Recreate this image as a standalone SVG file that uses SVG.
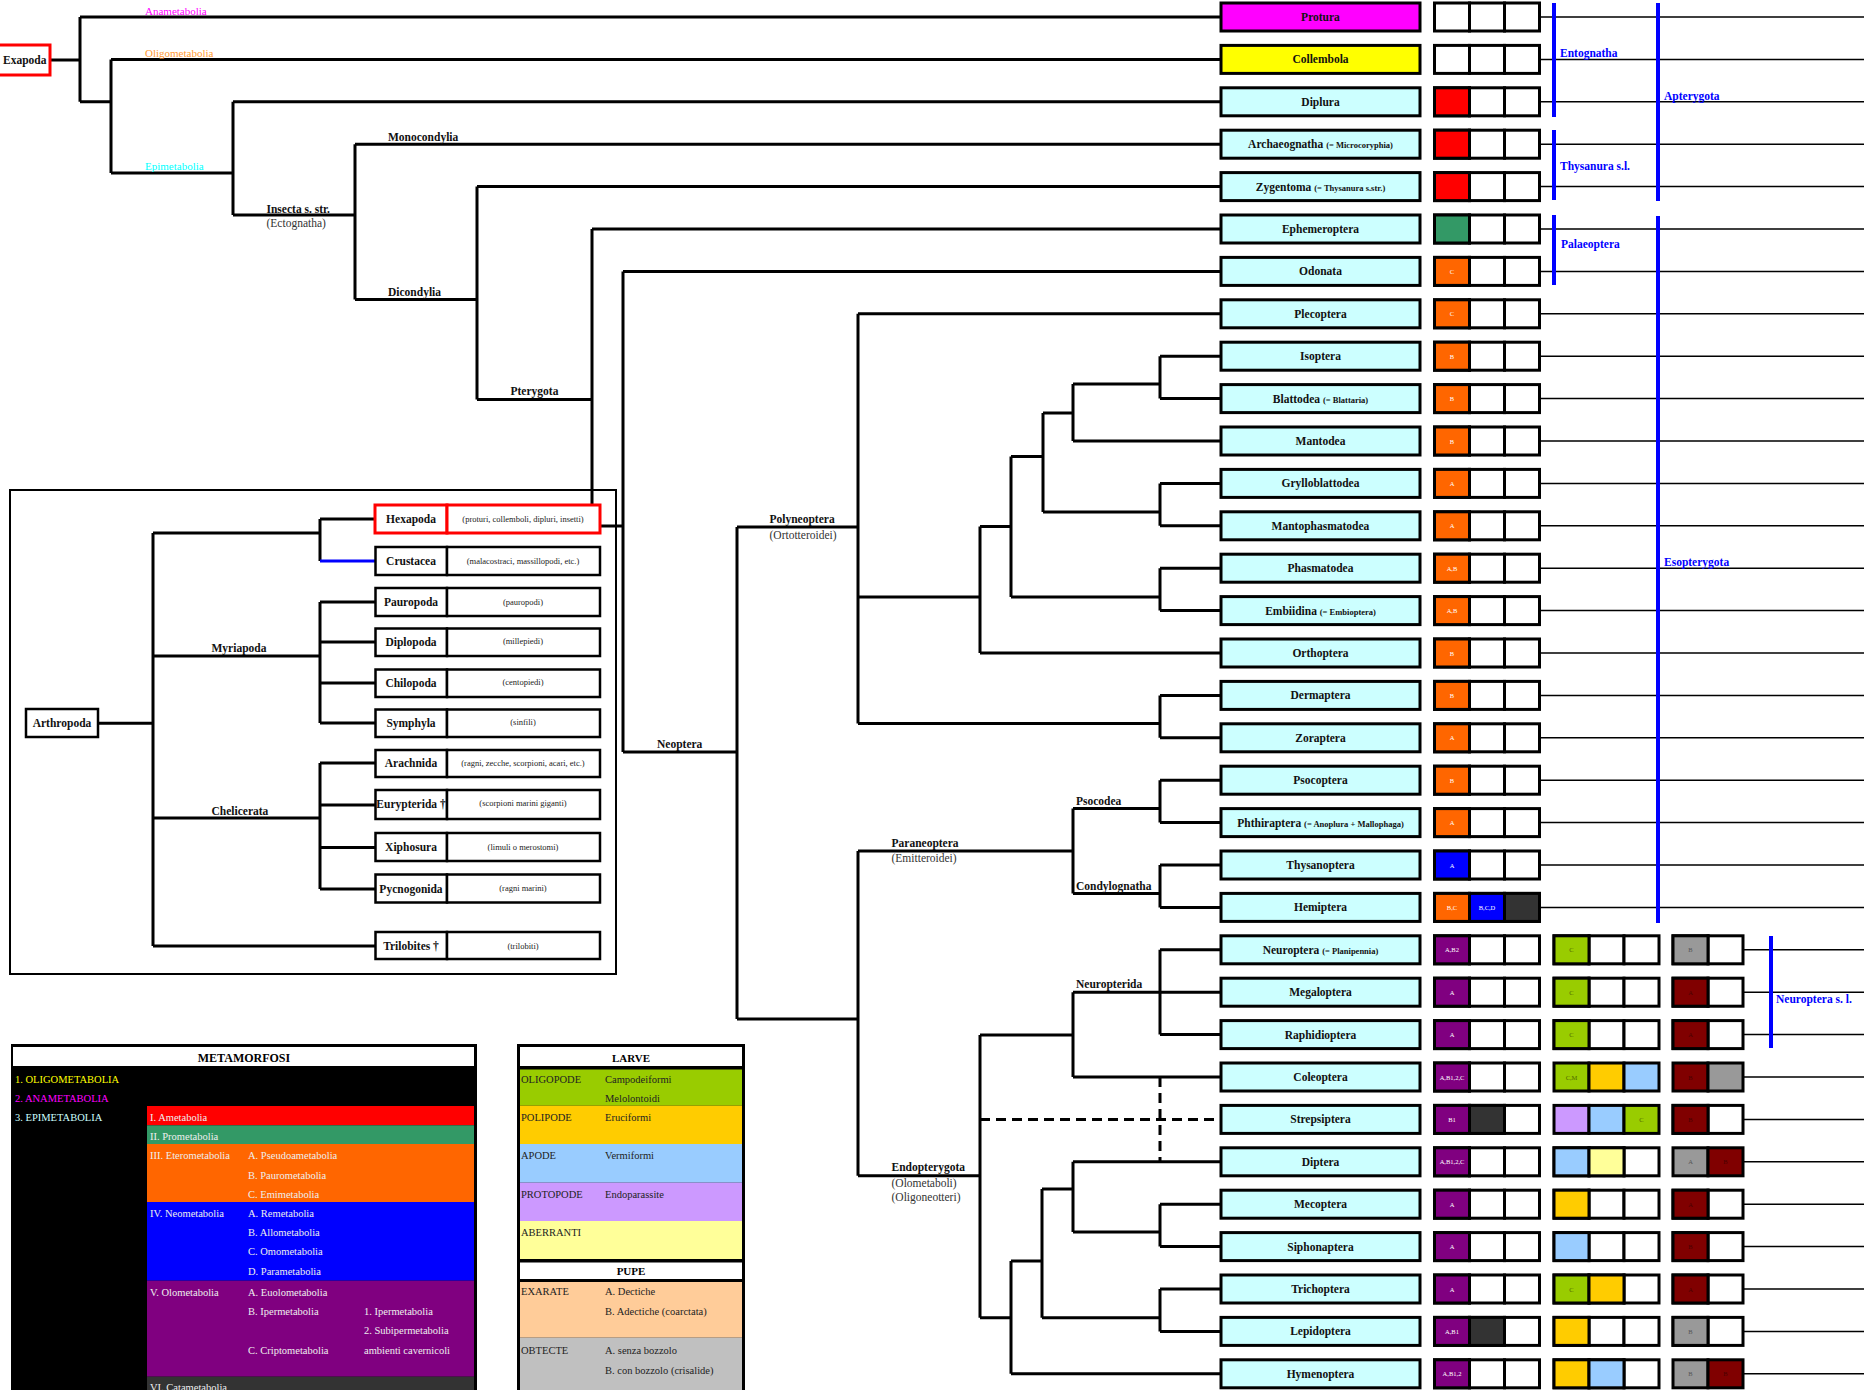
<svg xmlns="http://www.w3.org/2000/svg" xmlns:xlink="http://www.w3.org/1999/xlink" width="1864" height="1390" viewBox="0 0 1864 1390">
<style>
text { font-family: "Liberation Serif", "Times New Roman", serif; }
.nb { fill: #CCFFFF; stroke: #000; stroke-width: 3; }
.nl { font-size: 11.5px; font-weight: bold; text-anchor: middle; fill: #111; }
.sm { font-size: 8.5px; }
.c { stroke: #000; stroke-width: 3; fill: #fff; }
.r { fill: #FF0000; } .g { fill: #339966; } .o { fill: #FF6600; } .bl { fill: #0000FF; }
.dk { fill: #333333; } .p { fill: #800080; } .lg { fill: #99CC00; } .y { fill: #FFCC00; }
.lb { fill: #99CCFF; } .lv { fill: #CC99FF; } .ly { fill: #FFFF99; } .gr { fill: #999999; } .mr { fill: #800000; }
.ct { font-size: 6.5px; text-anchor: middle; fill: #fff; }
.ctg { font-size: 6.5px; text-anchor: middle; fill: #4d6600; }
.ctd { font-size: 6.5px; text-anchor: middle; fill: #4a0000; }
.ctgr { font-size: 6.5px; text-anchor: middle; fill: #555; }
.ln { stroke: #000; stroke-width: 3; fill: none; }
.dash { stroke: #000; stroke-width: 3; fill: none; stroke-dasharray: 10 6; }
.thin { stroke: #000; stroke-width: 1.5; fill: none; }
.blue { stroke: #0000FF; stroke-width: 4; fill: none; }
.lbl { font-size: 11.5px; font-weight: bold; fill: #111; }
.sub { font-size: 11.5px; fill: #333; }
.grp { font-size: 11.5px; font-weight: bold; fill: #0000FF; }
.meta { font-size: 11px; }
.ib { fill: #fff; stroke: #000; stroke-width: 2.5; }
.ibr { fill: #fff; stroke: #FF0000; stroke-width: 3; }
.il { font-size: 11.5px; font-weight: bold; text-anchor: middle; fill: #111; }
.id { font-size: 8.5px; text-anchor: middle; fill: #222; }
.lg1 { font-size: 10.5px; fill: #eeeeee; }
.lg2 { font-size: 10.5px; fill: #222; }
.hd { font-size: 12px; font-weight: bold; text-anchor: middle; fill: #000; }
</style>
<defs>
  <g id="trip"><rect class="c" x="0" y="-14" width="35" height="28"/><rect class="c" x="35" y="-14" width="35" height="28"/><rect class="c" x="70" y="-14" width="35" height="28"/></g>
  <g id="pair"><rect class="c" x="0" y="-14" width="35" height="28"/><rect class="c" x="35" y="-14" width="35" height="28"/></g>
</defs>
<rect width="1864" height="1390" fill="#fff"/>

<!-- inset frame: arthropod relationships -->
<rect x="10" y="490" width="606" height="484" fill="none" stroke="#000" stroke-width="2"/>

<!-- thin row guide lines -->
<g id="guides" class="thin">
<path d="M1539.5 17H1864M1539.5 59.4H1864M1539.5 101.8H1864M1539.5 144.2H1864M1539.5 186.6H1864M1539.5 229H1864M1539.5 271.4H1864M1539.5 313.8H1864M1539.5 356.2H1864M1539.5 398.6H1864M1539.5 441H1864M1539.5 483.4H1864M1539.5 525.8H1864M1539.5 568.2H1864M1539.5 610.6H1864M1539.5 653H1864M1539.5 695.4H1864M1539.5 737.8H1864M1539.5 780.2H1864M1539.5 822.6H1864M1539.5 865H1864M1539.5 907.4H1864M1743 949.8H1864M1743 992.2H1864M1743 1034.6H1864M1743 1077H1864M1743 1119.4H1864M1743 1161.8H1864M1743 1204.2H1864M1743 1246.6H1864M1743 1289H1864M1743 1331.4H1864M1743 1373.8H1864"/>
</g>

<!-- connectors -->
<g id="connectors">
<path class="ln" d="M50 60H80M80 17V101.8M80 17H1221M80 101.8H111M111 59.4V173M111 59.4H1221M111 173H233M233 101.8V215M233 101.8H1221M233 215H355M355 144.2V299.5M355 144.2H1221M355 299.5H477M477 186.6V399.5M477 186.6H1221M477 399.5H592M592 229V526M592 229H1221M592 526H623M623 271.4V752M623 271.4H1221M623 752H737M737 527V1019M737 527H858
M858 313.8V723.4M858 313.8H1221M858 597H980M980 526.5V653M980 653H1221M980 526.5H1011M1011 456.5V597M1011 597H1160M1160 568.2V610.6M1160 568.2H1221M1160 610.6H1221M1011 456.5H1043M1043 413V512M1043 512H1160M1160 483.4V525.8M1160 483.4H1221M1160 525.8H1221M1043 413H1073M1073 384V441M1073 441H1221M1073 384H1160M1160 356.2V398.6M1160 356.2H1221M1160 398.6H1221M858 723.4H1160M1160 695.4V737.8M1160 695.4H1221M1160 737.8H1221
M737 1019H858M858 851V1175.7M858 851H1073M1073 808.5V893.5M1073 808.5H1160M1160 780.2V822.6M1160 780.2H1221M1160 822.6H1221M1073 893.5H1160M1160 865V907.4M1160 865H1221M1160 907.4H1221
M858 1175.7H980M980 1035V1317.7M980 1035H1073M1073 992.2V1077M1073 992.2H1221M1073 1077H1221M1160 949.8V1034.6M1160 949.8H1221M1160 1034.6H1221M980 1317.7H1011M1011 1261V1373.8M1011 1373.8H1221M1011 1261H1042M1042 1189V1317.7M1042 1189H1073M1073 1161.8V1232M1073 1161.8H1221M1073 1232H1160M1160 1204.2V1246.6M1160 1204.2H1221M1160 1246.6H1221M1042 1317.7H1160M1160 1289V1331.4M1160 1289H1221M1160 1331.4H1221"/>
<path class="dash" d="M980 1119.4H1221M1160 1077V1161.8"/>
<!-- inset connectors -->
<path class="ln" d="M98 723.3H153M153 533V946M153 533H320M320 519V561M320 519H375M153 656H320M320 602V723M320 602H375M320 642H375M320 683H375M320 723H375M153 818H320M320 763V889M320 763H375M320 805H375M320 847.5H375M320 889H375M153 946H375"/>
<path d="M320 561H375" stroke="#0000FF" stroke-width="3"/>
</g>

<!-- clade labels on the tree -->
<g id="tree-labels">
<text x="145" y="14.5" font-size="11px" fill="#FF00FF">Anametabolia</text>
<text x="145" y="56.5" font-size="11px" fill="#FF9933">Oligometabolia</text>
<text x="145" y="169.5" font-size="11px" fill="#00FFFF">Epimetabolia</text>
<text class="lbl" x="266.5" y="212.5">Insecta s. str.</text>
<text class="sub" x="266.5" y="226.5">(Ectognatha)</text>
<text class="lbl" x="388" y="141">Monocondylia</text>
<text class="lbl" x="388" y="296">Dicondylia</text>
<text class="lbl" x="510.5" y="395">Pterygota</text>
<text class="lbl" x="657" y="748">Neoptera</text>
<text class="lbl" x="769.5" y="523">Polyneoptera</text>
<text class="sub" x="769.5" y="539">(Ortotteroidei)</text>
<text class="lbl" x="891.5" y="847">Paraneoptera</text>
<text class="sub" x="891.5" y="862">(Emitteroidei)</text>
<text class="lbl" x="1076" y="805">Psocodea</text>
<text class="lbl" x="1076" y="890">Condylognatha</text>
<text class="lbl" x="1076" y="988">Neuropterida</text>
<text class="lbl" x="891.5" y="1171">Endopterygota</text>
<text class="sub" x="891.5" y="1187">(Olometaboli)</text>
<text class="sub" x="891.5" y="1201">(Oligoneotteri)</text>
</g>

<!-- root -->
<g id="n-exapoda">
<rect x="-2" y="45" width="52" height="30" fill="#fff" stroke="#FF0000" stroke-width="3"/>
<text class="lbl" x="3" y="64">Exapoda</text>
</g>

<!-- terminal taxa with character cells -->
<g id="n-protura" transform="translate(0,17)"><rect class="nb" x="1221" y="-14" width="199" height="28" fill="#FF00FF" style="fill:#FF00FF"/><text class="nl" x="1320.5" y="4">Protura</text><use href="#trip" x="1434.5"/></g>
<g id="n-collembola" transform="translate(0,59.4)"><rect class="nb" x="1221" y="-14" width="199" height="28" style="fill:#FFFF00"/><text class="nl" x="1320.5" y="4">Collembola</text><use href="#trip" x="1434.5"/></g>
<g id="n-diplura" transform="translate(0,101.8)"><rect class="nb" x="1221" y="-14" width="199" height="28"/><text class="nl" x="1320.5" y="4">Diplura</text><use href="#trip" x="1434.5"/><rect class="c r" x="1434.5" y="-14" width="35" height="28"/></g>
<g id="n-archaeognatha" transform="translate(0,144.2)"><rect class="nb" x="1221" y="-14" width="199" height="28"/><text class="nl" x="1320.5" y="4">Archaeognatha <tspan class="sm">(= Microcoryphia)</tspan></text><use href="#trip" x="1434.5"/><rect class="c r" x="1434.5" y="-14" width="35" height="28"/></g>
<g id="n-zygentoma" transform="translate(0,186.6)"><rect class="nb" x="1221" y="-14" width="199" height="28"/><text class="nl" x="1320.5" y="4">Zygentoma <tspan class="sm">(= Thysanura s.str.)</tspan></text><use href="#trip" x="1434.5"/><rect class="c r" x="1434.5" y="-14" width="35" height="28"/></g>
<g id="n-ephemeroptera" transform="translate(0,229)"><rect class="nb" x="1221" y="-14" width="199" height="28"/><text class="nl" x="1320.5" y="4">Ephemeroptera</text><use href="#trip" x="1434.5"/><rect class="c g" x="1434.5" y="-14" width="35" height="28"/></g>
<g id="n-odonata" transform="translate(0,271.4)"><rect class="nb" x="1221" y="-14" width="199" height="28"/><text class="nl" x="1320.5" y="4">Odonata</text><use href="#trip" x="1434.5"/><rect class="c o" x="1434.5" y="-14" width="35" height="28"/><text class="ct" x="1452" y="2.5">C</text></g>
<g id="n-plecoptera" transform="translate(0,313.8)"><rect class="nb" x="1221" y="-14" width="199" height="28"/><text class="nl" x="1320.5" y="4">Plecoptera</text><use href="#trip" x="1434.5"/><rect class="c o" x="1434.5" y="-14" width="35" height="28"/><text class="ct" x="1452" y="2.5">C</text></g>
<g id="n-isoptera" transform="translate(0,356.2)"><rect class="nb" x="1221" y="-14" width="199" height="28"/><text class="nl" x="1320.5" y="4">Isoptera</text><use href="#trip" x="1434.5"/><rect class="c o" x="1434.5" y="-14" width="35" height="28"/><text class="ct" x="1452" y="2.5">B</text></g>
<g id="n-blattodea" transform="translate(0,398.6)"><rect class="nb" x="1221" y="-14" width="199" height="28"/><text class="nl" x="1320.5" y="4">Blattodea <tspan class="sm">(= Blattaria)</tspan></text><use href="#trip" x="1434.5"/><rect class="c o" x="1434.5" y="-14" width="35" height="28"/><text class="ct" x="1452" y="2.5">B</text></g>
<g id="n-mantodea" transform="translate(0,441)"><rect class="nb" x="1221" y="-14" width="199" height="28"/><text class="nl" x="1320.5" y="4">Mantodea</text><use href="#trip" x="1434.5"/><rect class="c o" x="1434.5" y="-14" width="35" height="28"/><text class="ct" x="1452" y="2.5">B</text></g>
<g id="n-grylloblattodea" transform="translate(0,483.4)"><rect class="nb" x="1221" y="-14" width="199" height="28"/><text class="nl" x="1320.5" y="4">Grylloblattodea</text><use href="#trip" x="1434.5"/><rect class="c o" x="1434.5" y="-14" width="35" height="28"/><text class="ct" x="1452" y="2.5">A</text></g>
<g id="n-mantophasmatodea" transform="translate(0,525.8)"><rect class="nb" x="1221" y="-14" width="199" height="28"/><text class="nl" x="1320.5" y="4">Mantophasmatodea</text><use href="#trip" x="1434.5"/><rect class="c o" x="1434.5" y="-14" width="35" height="28"/><text class="ct" x="1452" y="2.5">A</text></g>
<g id="n-phasmatodea" transform="translate(0,568.2)"><rect class="nb" x="1221" y="-14" width="199" height="28"/><text class="nl" x="1320.5" y="4">Phasmatodea</text><use href="#trip" x="1434.5"/><rect class="c o" x="1434.5" y="-14" width="35" height="28"/><text class="ct" x="1452" y="2.5">A,B</text></g>
<g id="n-embiidina" transform="translate(0,610.6)"><rect class="nb" x="1221" y="-14" width="199" height="28"/><text class="nl" x="1320.5" y="4">Embiidina <tspan class="sm">(= Embioptera)</tspan></text><use href="#trip" x="1434.5"/><rect class="c o" x="1434.5" y="-14" width="35" height="28"/><text class="ct" x="1452" y="2.5">A,B</text></g>
<g id="n-orthoptera" transform="translate(0,653)"><rect class="nb" x="1221" y="-14" width="199" height="28"/><text class="nl" x="1320.5" y="4">Orthoptera</text><use href="#trip" x="1434.5"/><rect class="c o" x="1434.5" y="-14" width="35" height="28"/><text class="ct" x="1452" y="2.5">B</text></g>
<g id="n-dermaptera" transform="translate(0,695.4)"><rect class="nb" x="1221" y="-14" width="199" height="28"/><text class="nl" x="1320.5" y="4">Dermaptera</text><use href="#trip" x="1434.5"/><rect class="c o" x="1434.5" y="-14" width="35" height="28"/><text class="ct" x="1452" y="2.5">B</text></g>
<g id="n-zoraptera" transform="translate(0,737.8)"><rect class="nb" x="1221" y="-14" width="199" height="28"/><text class="nl" x="1320.5" y="4">Zoraptera</text><use href="#trip" x="1434.5"/><rect class="c o" x="1434.5" y="-14" width="35" height="28"/><text class="ct" x="1452" y="2.5">A</text></g>
<g id="n-psocoptera" transform="translate(0,780.2)"><rect class="nb" x="1221" y="-14" width="199" height="28"/><text class="nl" x="1320.5" y="4">Psocoptera</text><use href="#trip" x="1434.5"/><rect class="c o" x="1434.5" y="-14" width="35" height="28"/><text class="ct" x="1452" y="2.5">B</text></g>
<g id="n-phthiraptera" transform="translate(0,822.6)"><rect class="nb" x="1221" y="-14" width="199" height="28"/><text class="nl" x="1320.5" y="4">Phthiraptera <tspan class="sm">(= Anoplura + Mallophaga)</tspan></text><use href="#trip" x="1434.5"/><rect class="c o" x="1434.5" y="-14" width="35" height="28"/><text class="ct" x="1452" y="2.5">A</text></g>
<g id="n-thysanoptera" transform="translate(0,865)"><rect class="nb" x="1221" y="-14" width="199" height="28"/><text class="nl" x="1320.5" y="4">Thysanoptera</text><use href="#trip" x="1434.5"/><rect class="c bl" x="1434.5" y="-14" width="35" height="28"/><text class="ct" x="1452" y="2.5">A</text></g>
<g id="n-hemiptera" transform="translate(0,907.4)"><rect class="nb" x="1221" y="-14" width="199" height="28"/><text class="nl" x="1320.5" y="4">Hemiptera</text><use href="#trip" x="1434.5"/><rect class="c o" x="1434.5" y="-14" width="35" height="28"/><rect class="c bl" x="1469.5" y="-14" width="35" height="28"/><rect class="c dk" x="1504.5" y="-14" width="35" height="28"/><text class="ct" x="1452" y="2.5">B,C</text><text class="ct" x="1487" y="2.5">B,C,D</text></g>

<g id="n-neuroptera" transform="translate(0,949.8)"><rect class="nb" x="1221" y="-14" width="199" height="28"/><text class="nl" x="1320.5" y="4">Neuroptera <tspan class="sm">(= Planipennia)</tspan></text><use href="#trip" x="1434.5"/><rect class="c p" x="1434.5" y="-14" width="35" height="28"/><text class="ct" x="1452" y="2.5">A,B2</text><use href="#trip" x="1554"/><rect class="c lg" x="1554" y="-14" width="35" height="28"/><text class="ctg" x="1571.5" y="2.5">C</text><use href="#pair" x="1673"/><rect class="c gr" x="1673" y="-14" width="35" height="28"/><text class="ctgr" x="1690.5" y="2.5">B</text></g>
<g id="n-megaloptera" transform="translate(0,992.2)"><rect class="nb" x="1221" y="-14" width="199" height="28"/><text class="nl" x="1320.5" y="4">Megaloptera</text><use href="#trip" x="1434.5"/><rect class="c p" x="1434.5" y="-14" width="35" height="28"/><text class="ct" x="1452" y="2.5">A</text><use href="#trip" x="1554"/><rect class="c lg" x="1554" y="-14" width="35" height="28"/><text class="ctg" x="1571.5" y="2.5">C</text><use href="#pair" x="1673"/><rect class="c mr" x="1673" y="-14" width="35" height="28"/><text class="ctd" x="1690.5" y="2.5">A</text></g>
<g id="n-raphidioptera" transform="translate(0,1034.6)"><rect class="nb" x="1221" y="-14" width="199" height="28"/><text class="nl" x="1320.5" y="4">Raphidioptera</text><use href="#trip" x="1434.5"/><rect class="c p" x="1434.5" y="-14" width="35" height="28"/><text class="ct" x="1452" y="2.5">A</text><use href="#trip" x="1554"/><rect class="c lg" x="1554" y="-14" width="35" height="28"/><text class="ctg" x="1571.5" y="2.5">C</text><use href="#pair" x="1673"/><rect class="c mr" x="1673" y="-14" width="35" height="28"/><text class="ctd" x="1690.5" y="2.5">A</text></g>
<g id="n-coleoptera" transform="translate(0,1077)"><rect class="nb" x="1221" y="-14" width="199" height="28"/><text class="nl" x="1320.5" y="4">Coleoptera</text><use href="#trip" x="1434.5"/><rect class="c p" x="1434.5" y="-14" width="35" height="28"/><text class="ct" x="1452" y="2.5">A,B1,2,C</text><rect class="c lg" x="1554" y="-14" width="35" height="28"/><rect class="c y" x="1589" y="-14" width="35" height="28"/><rect class="c lb" x="1624" y="-14" width="35" height="28"/><text class="ctg" x="1571.5" y="2.5">C,M</text><rect class="c mr" x="1673" y="-14" width="35" height="28"/><rect class="c gr" x="1708" y="-14" width="35" height="28"/><text class="ctd" x="1690.5" y="2.5">B</text></g>
<g id="n-strepsiptera" transform="translate(0,1119.4)"><rect class="nb" x="1221" y="-14" width="199" height="28"/><text class="nl" x="1320.5" y="4">Strepsiptera</text><use href="#trip" x="1434.5"/><rect class="c p" x="1434.5" y="-14" width="35" height="28"/><rect class="c dk" x="1469.5" y="-14" width="35" height="28"/><text class="ct" x="1452" y="2.5">B1</text><rect class="c lv" x="1554" y="-14" width="35" height="28"/><rect class="c lb" x="1589" y="-14" width="35" height="28"/><rect class="c lg" x="1624" y="-14" width="35" height="28"/><text class="ctg" x="1641.5" y="2.5">C</text><use href="#pair" x="1673"/><rect class="c mr" x="1673" y="-14" width="35" height="28"/><text class="ctd" x="1690.5" y="2.5">B</text></g>
<g id="n-diptera" transform="translate(0,1161.8)"><rect class="nb" x="1221" y="-14" width="199" height="28"/><text class="nl" x="1320.5" y="4">Diptera</text><use href="#trip" x="1434.5"/><rect class="c p" x="1434.5" y="-14" width="35" height="28"/><text class="ct" x="1452" y="2.5">A,B1,2,C</text><use href="#trip" x="1554"/><rect class="c lb" x="1554" y="-14" width="35" height="28"/><rect class="c ly" x="1589" y="-14" width="35" height="28"/><rect class="c gr" x="1673" y="-14" width="35" height="28"/><rect class="c mr" x="1708" y="-14" width="35" height="28"/><text class="ctgr" x="1690.5" y="2.5">A</text><text class="ctd" x="1725.5" y="2.5">B</text></g>
<g id="n-mecoptera" transform="translate(0,1204.2)"><rect class="nb" x="1221" y="-14" width="199" height="28"/><text class="nl" x="1320.5" y="4">Mecoptera</text><use href="#trip" x="1434.5"/><rect class="c p" x="1434.5" y="-14" width="35" height="28"/><text class="ct" x="1452" y="2.5">A</text><use href="#trip" x="1554"/><rect class="c y" x="1554" y="-14" width="35" height="28"/><use href="#pair" x="1673"/><rect class="c mr" x="1673" y="-14" width="35" height="28"/><text class="ctd" x="1690.5" y="2.5">A</text></g>
<g id="n-siphonaptera" transform="translate(0,1246.6)"><rect class="nb" x="1221" y="-14" width="199" height="28"/><text class="nl" x="1320.5" y="4">Siphonaptera</text><use href="#trip" x="1434.5"/><rect class="c p" x="1434.5" y="-14" width="35" height="28"/><text class="ct" x="1452" y="2.5">A</text><use href="#trip" x="1554"/><rect class="c lb" x="1554" y="-14" width="35" height="28"/><use href="#pair" x="1673"/><rect class="c mr" x="1673" y="-14" width="35" height="28"/><text class="ctd" x="1690.5" y="2.5">B</text></g>
<g id="n-trichoptera" transform="translate(0,1289)"><rect class="nb" x="1221" y="-14" width="199" height="28"/><text class="nl" x="1320.5" y="4">Trichoptera</text><use href="#trip" x="1434.5"/><rect class="c p" x="1434.5" y="-14" width="35" height="28"/><text class="ct" x="1452" y="2.5">A</text><use href="#trip" x="1554"/><rect class="c lg" x="1554" y="-14" width="35" height="28"/><rect class="c y" x="1589" y="-14" width="35" height="28"/><text class="ctg" x="1571.5" y="2.5">C</text><use href="#pair" x="1673"/><rect class="c mr" x="1673" y="-14" width="35" height="28"/><text class="ctd" x="1690.5" y="2.5">A</text></g>
<g id="n-lepidoptera" transform="translate(0,1331.4)"><rect class="nb" x="1221" y="-14" width="199" height="28"/><text class="nl" x="1320.5" y="4">Lepidoptera</text><use href="#trip" x="1434.5"/><rect class="c p" x="1434.5" y="-14" width="35" height="28"/><rect class="c dk" x="1469.5" y="-14" width="35" height="28"/><text class="ct" x="1452" y="2.5">A,B1</text><use href="#trip" x="1554"/><rect class="c y" x="1554" y="-14" width="35" height="28"/><use href="#pair" x="1673"/><rect class="c gr" x="1673" y="-14" width="35" height="28"/><text class="ctgr" x="1690.5" y="2.5">B</text></g>
<g id="n-hymenoptera" transform="translate(0,1373.8)"><rect class="nb" x="1221" y="-14" width="199" height="28"/><text class="nl" x="1320.5" y="4">Hymenoptera</text><use href="#trip" x="1434.5"/><rect class="c p" x="1434.5" y="-14" width="35" height="28"/><text class="ct" x="1452" y="2.5">A,B1,2</text><use href="#trip" x="1554"/><rect class="c y" x="1554" y="-14" width="35" height="28"/><rect class="c lb" x="1589" y="-14" width="35" height="28"/><rect class="c gr" x="1673" y="-14" width="35" height="28"/><rect class="c mr" x="1708" y="-14" width="35" height="28"/><text class="ctgr" x="1690.5" y="2.5">B</text><text class="ctd" x="1725.5" y="2.5">B</text></g>

<!-- grouping bars -->
<g id="groups">
<path class="blue" d="M1554 3V117M1554 130V200M1554 215V285M1658 3V201M1658 216V923M1771 936V1048"/>
<text class="grp" x="1560" y="57">Entognatha</text>
<text class="grp" x="1560" y="170">Thysanura s.l.</text>
<text class="grp" x="1561" y="248">Palaeoptera</text>
<text class="grp" x="1664" y="100">Apterygota</text>
<text class="grp" x="1664" y="566">Esopterygota</text>
<text class="grp" x="1776" y="1003">Neuroptera s. l.</text>
</g>

<!-- arthropod inset -->
<g id="n-arthropoda"><rect class="ib" x="26" y="709" width="72" height="28" stroke-width="3"/><text class="il" x="62" y="727">Arthropoda</text></g>
<text class="lbl" x="211.5" y="652">Myriapoda</text>
<text class="lbl" x="211.5" y="815">Chelicerata</text>
<g id="n-hexapoda"><rect class="ibr" x="375" y="505" width="72" height="28"/><rect class="ibr" x="447" y="505" width="153" height="28"/><text class="il" x="411" y="523">Hexapoda</text><text class="id" x="523" y="522">(proturi, collemboli, dipluri, insetti)</text></g>
<g id="n-crustacea"><rect class="ib" x="375.5" y="547" width="71.5" height="28"/><rect class="ib" x="447" y="547" width="153" height="28"/><text class="il" x="411" y="565">Crustacea</text><text class="id" x="523" y="564">(malacostraci, massillopodi, etc.)</text></g>
<g id="n-pauropoda"><rect class="ib" x="375.5" y="588" width="71.5" height="28"/><rect class="ib" x="447" y="588" width="153" height="28"/><text class="il" x="411" y="606">Pauropoda</text><text class="id" x="523" y="605">(pauropodi)</text></g>
<g id="n-diplopoda"><rect class="ib" x="375.5" y="628.5" width="71.5" height="27.5"/><rect class="ib" x="447" y="628.5" width="153" height="27.5"/><text class="il" x="411" y="646">Diplopoda</text><text class="id" x="523" y="644">(millepiedi)</text></g>
<g id="n-chilopoda"><rect class="ib" x="375.5" y="669.5" width="71.5" height="27.5"/><rect class="ib" x="447" y="669.5" width="153" height="27.5"/><text class="il" x="411" y="687">Chilopoda</text><text class="id" x="523" y="685">(centopiedi)</text></g>
<g id="n-symphyla"><rect class="ib" x="375.5" y="709.5" width="71.5" height="27.5"/><rect class="ib" x="447" y="709.5" width="153" height="27.5"/><text class="il" x="411" y="727">Symphyla</text><text class="id" x="523" y="725">(sinfili)</text></g>
<g id="n-arachnida"><rect class="ib" x="375.5" y="750" width="71.5" height="27"/><rect class="ib" x="447" y="750" width="153" height="27"/><text class="il" x="411" y="767">Arachnida</text><text class="id" x="523" y="766">(ragni, zecche, scorpioni, acari, etc.)</text></g>
<g id="n-eurypterida"><rect class="ib" x="375.5" y="790" width="71.5" height="29"/><rect class="ib" x="447" y="790" width="153" height="29"/><text class="il" x="411" y="808">Eurypterida †</text><text class="id" x="523" y="806">(scorpioni marini giganti)</text></g>
<g id="n-xiphosura"><rect class="ib" x="375.5" y="833" width="71.5" height="28"/><rect class="ib" x="447" y="833" width="153" height="28"/><text class="il" x="411" y="851">Xiphosura</text><text class="id" x="523" y="850">(limuli o merostomi)</text></g>
<g id="n-pycnogonida"><rect class="ib" x="375.5" y="874.5" width="71.5" height="28"/><rect class="ib" x="447" y="874.5" width="153" height="28"/><text class="il" x="411" y="892.5">Pycnogonida</text><text class="id" x="523" y="891">(ragni marini)</text></g>
<g id="n-trilobites"><rect class="ib" x="375.5" y="932" width="71.5" height="27"/><rect class="ib" x="447" y="932" width="153" height="27"/><text class="il" x="411" y="950">Trilobites †</text><text class="id" x="523" y="949">(trilobiti)</text></g>

<!-- legend: metamorphosis types -->
<g id="legend-metamorfosi">
<rect x="11" y="1044" width="466" height="350" fill="#000"/>
<rect x="13" y="1047" width="461" height="19" fill="#fff"/>
<text class="hd" x="244" y="1061.5">METAMORFOSI</text>
<text class="lg1" x="15" y="1083" style="fill:#FFFF00">1. OLIGOMETABOLIA</text>
<text class="lg1" x="15" y="1102" style="fill:#FF00FF">2. ANAMETABOLIA</text>
<text class="lg1" x="15" y="1121" style="fill:#CCFFFF">3. EPIMETABOLIA</text>
<rect x="147" y="1106" width="327" height="19.3" fill="#FF0000"/>
<rect x="147" y="1125.3" width="327" height="18.7" fill="#339966"/>
<rect x="147" y="1144" width="327" height="58" fill="#FF6600"/>
<rect x="147" y="1202" width="327" height="78.7" fill="#0000FF"/>
<rect x="147" y="1280.7" width="327" height="96" fill="#800080"/>
<rect x="147" y="1376.7" width="327" height="20" fill="#333333"/>
<text class="lg1" x="150" y="1121">I. Ametabolia</text>
<text class="lg1" x="150" y="1140">II. Prometabolia</text>
<text class="lg1" x="150" y="1159">III. Eterometabolia</text>
<text class="lg1" x="248" y="1159">A. Pseudoametabolia</text>
<text class="lg1" x="248" y="1178.5">B. Paurometabolia</text>
<text class="lg1" x="248" y="1197.5">C. Emimetabolia</text>
<text class="lg1" x="150" y="1216.5">IV. Neometabolia</text>
<text class="lg1" x="248" y="1216.5">A. Remetabolia</text>
<text class="lg1" x="248" y="1235.5">B. Allometabolia</text>
<text class="lg1" x="248" y="1254.5">C. Omometabolia</text>
<text class="lg1" x="248" y="1274.5">D. Parametabolia</text>
<text class="lg1" x="150" y="1295.5">V. Olometabolia</text>
<text class="lg1" x="248" y="1295.5">A. Euolometabolia</text>
<text class="lg1" x="248" y="1314.5">B. Ipermetabolia</text>
<text class="lg1" x="364" y="1314.5">1. Ipermetabolia</text>
<text class="lg1" x="364" y="1333.5">2. Subipermetabolia</text>
<text class="lg1" x="248" y="1353.5">C. Criptometabolia</text>
<text class="lg1" x="364" y="1353.5">ambienti cavernicoli</text>
<text class="lg1" x="150" y="1390.5">VI. Catametabolia</text>
</g>

<!-- legend: larvae and pupae -->
<g id="legend-larve">
<rect x="517" y="1044" width="228" height="350" fill="#000"/>
<rect x="520" y="1047" width="222" height="19" fill="#fff"/>
<text class="hd" x="631" y="1061.5" style="font-size:11px">LARVE</text>
<rect x="520" y="1069.5" width="222" height="36.2" fill="#99CC00"/>
<rect x="520" y="1105.7" width="222" height="38.3" fill="#FFCC00"/>
<rect x="520" y="1144" width="222" height="38.7" fill="#99CCFF"/>
<rect x="520" y="1182.7" width="222" height="38.3" fill="#CC99FF"/>
<rect x="520" y="1221" width="222" height="38" fill="#FFFF99"/>
<rect x="520" y="1262.5" width="222" height="16.5" fill="#fff"/>
<text class="hd" x="631" y="1274.5" style="font-size:11px">PUPE</text>
<rect x="520" y="1282" width="222" height="55.7" fill="#FFCC99"/>
<rect x="520" y="1337.7" width="222" height="56" fill="#C0C0C0"/>
<text class="lg2" x="521" y="1082.5">OLIGOPODE</text>
<text class="lg2" x="605" y="1082.5">Campodeiformi</text>
<text class="lg2" x="605" y="1101.5">Melolontoidi</text>
<text class="lg2" x="521" y="1120.5">POLIPODE</text>
<text class="lg2" x="605" y="1120.5">Eruciformi</text>
<text class="lg2" x="521" y="1158.5">APODE</text>
<text class="lg2" x="605" y="1158.5">Vermiformi</text>
<text class="lg2" x="521" y="1197.5">PROTOPODE</text>
<text class="lg2" x="605" y="1197.5">Endoparassite</text>
<text class="lg2" x="521" y="1235.5">ABERRANTI</text>
<text class="lg2" x="521" y="1295">EXARATE</text>
<text class="lg2" x="605" y="1295">A. Dectiche</text>
<text class="lg2" x="605" y="1314.5">B. Adectiche (coarctata)</text>
<text class="lg2" x="521" y="1353.5">OBTECTE</text>
<text class="lg2" x="605" y="1353.5">A. senza bozzolo</text>
<text class="lg2" x="605" y="1373.5">B. con bozzolo (crisalide)</text>
</g>
</svg>
